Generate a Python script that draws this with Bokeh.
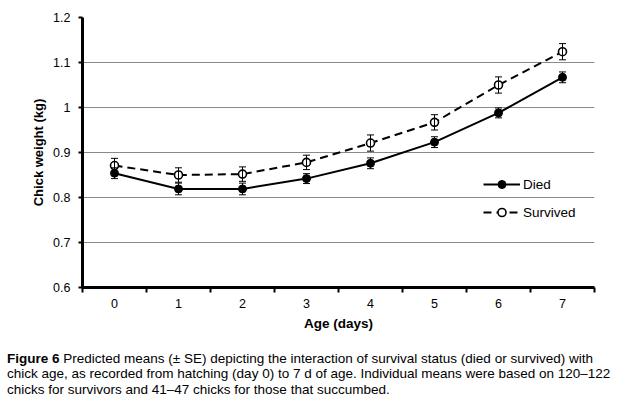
from bokeh.plotting import figure
from bokeh.models import (ColumnDataSource, Range1d, FixedTicker, Whisker, TeeHead,
                          Legend, LegendItem, NumeralTickFormatter, Div)
from bokeh.layouts import column
from bokeh.embed import file_html
from bokeh.resources import INLINE

# ---- data ----
ages = [0, 1, 2, 3, 4, 5, 6, 7]
x_tick_labels = ["0", "1", "2", "3", "4", "5", "6", "7"]
died_mean = [0.854, 0.819, 0.819, 0.842, 0.876, 0.923, 0.988, 1.067]
died_se = [0.012, 0.013, 0.013, 0.011, 0.012, 0.012, 0.011, 0.012]
surv_mean = [0.871, 0.850, 0.852, 0.878, 0.921, 0.967, 1.050, 1.124]
surv_se = [0.016, 0.016, 0.016, 0.016, 0.018, 0.017, 0.018, 0.018]
y_ticks = [0.6, 0.7, 0.8, 0.9, 1.0, 1.1, 1.2]
y_tick_labels = ["0.6", "0.7", "0.8", "0.9", "1", "1.1", "1.2"]
series_labels = ["Died", "Survived"]
x_label = "Age (days)"
y_label = "Chick weight (kg)"
caption_bold = "Figure 6"
caption_lines = [
    "Predicted means (\u00b1 SE) depicting the interaction of survival status (died or survived) with",
    "chick age, as recorded from hatching (day 0) to 7 d of age. Individual means were based on 120\u2013122",
    "chicks for survivors and 41\u201347 chicks for those that succumbed.",
]

FONT = "Liberation Sans"

x_bounds = [a - 0.5 for a in ages] + [ages[-1] + 0.5]

died_src = ColumnDataSource(dict(
    x=ages, y=died_mean,
    upper=[m + s for m, s in zip(died_mean, died_se)],
    lower=[m - s for m, s in zip(died_mean, died_se)]))
surv_src = ColumnDataSource(dict(
    x=ages, y=surv_mean,
    upper=[m + s for m, s in zip(surv_mean, surv_se)],
    lower=[m - s for m, s in zip(surv_mean, surv_se)]))

# layout (pixels)
W, H = 630, 343
F_LEFT, F_TOP, F_RIGHT, F_BOTTOM = 82, 17, 594, 287

p = figure(width=W, height=H, output_backend="svg", toolbar_location=None,
           x_range=Range1d(x_bounds[0], x_bounds[-1]),
           y_range=Range1d(y_ticks[0], y_ticks[-1]),
           min_border_left=F_LEFT, min_border_right=W - F_RIGHT,
           min_border_top=F_TOP, min_border_bottom=H - F_BOTTOM)
p.outline_line_color = None
p.background_fill_color = "white"

# axes
p.xaxis.ticker = FixedTicker(ticks=ages, minor_ticks=x_bounds)
p.xaxis.major_label_overrides = dict(zip(ages, x_tick_labels))
p.xaxis.major_tick_out = 0
p.xaxis.major_tick_in = 0
p.xaxis.minor_tick_out = 5
p.xaxis.minor_tick_in = 0
p.xaxis.minor_tick_line_color = "black"
p.xaxis.minor_tick_line_width = 2
p.xaxis.major_label_standoff = 6

p.yaxis.ticker = FixedTicker(ticks=y_ticks)
p.yaxis.formatter = NumeralTickFormatter(format="0.[0]")
p.yaxis.major_label_overrides = dict(zip(y_ticks, y_tick_labels))
p.yaxis.major_tick_out = 4
p.yaxis.major_tick_in = 0
p.yaxis.major_tick_line_color = "black"
p.yaxis.major_tick_line_width = 2
p.yaxis.minor_tick_line_color = None
p.yaxis.major_label_standoff = 8

for ax in (p.xaxis, p.yaxis):
    ax.axis_line_color = "black"
    ax.axis_line_width = 3
    ax.major_label_text_font = FONT
    ax.major_label_text_font_size = "12.5px"
    ax.major_label_text_color = "black"
    ax.axis_label_text_font = FONT
    ax.axis_label_text_font_size = "13px"
    ax.axis_label_text_font_style = "bold"
    ax.axis_label_text_color = "black"

p.xaxis.axis_label = x_label
p.xaxis.axis_label_standoff = 5
p.xaxis.axis_label_text_font_size = "13.5px"
p.yaxis.axis_label = y_label
p.yaxis.axis_label_standoff = 4

p.xgrid.visible = False
p.ygrid.grid_line_color = "#8a8a8a"
p.ygrid.grid_line_width = 1

# series
died_line = p.line("x", "y", source=died_src, line_color="black", line_width=2)
surv_line = p.line("x", "y", source=surv_src, line_color="black", line_width=2,
                   line_dash="8 5")

for src in (died_src, surv_src):
    w = Whisker(source=src, base="x", upper="upper", lower="lower",
                dimension="height", line_color="black", line_width=1, level="glyph",
                upper_head=TeeHead(size=7, line_width=1, line_color="black"),
                lower_head=TeeHead(size=7, line_width=1, line_color="black"))
    p.add_layout(w)

died_pts = p.scatter("x", "y", source=died_src, size=8, marker="circle",
                     fill_color="black", line_color="black", line_width=1)
surv_pts = p.scatter("x", "y", source=surv_src, size=8, marker="circle",
                     fill_color="white", line_color="black", line_width=1.6)

legend = Legend(items=[
    LegendItem(label=series_labels[0], renderers=[died_line, died_pts]),
    LegendItem(label=series_labels[1], renderers=[surv_line, surv_pts]),
], location=(483 - F_LEFT, F_BOTTOM - 222), padding=0, margin=0, spacing=8,
   glyph_width=37, glyph_height=20, label_height=20, label_standoff=3,
   border_line_color=None, background_fill_alpha=0,
   label_text_font=FONT, label_text_font_size="13.5px", label_text_color="black")
p.add_layout(legend)

# caption
caption_html = "<b>%s</b> %s<br>%s<br>%s" % (caption_bold, caption_lines[0],
                                             caption_lines[1], caption_lines[2])
cap = Div(text=caption_html, width=W, height=60, margin=0,
          styles={"font-family": FONT, "font-size": "13.5px", "line-height": "15.3px",
                  "color": "black", "white-space": "nowrap",
                  "padding-left": "7px", "padding-top": "8px",
                  "box-sizing": "border-box"})

layout = column(p, cap, spacing=0)
open("out.html", "w").write(file_html(layout, INLINE))
